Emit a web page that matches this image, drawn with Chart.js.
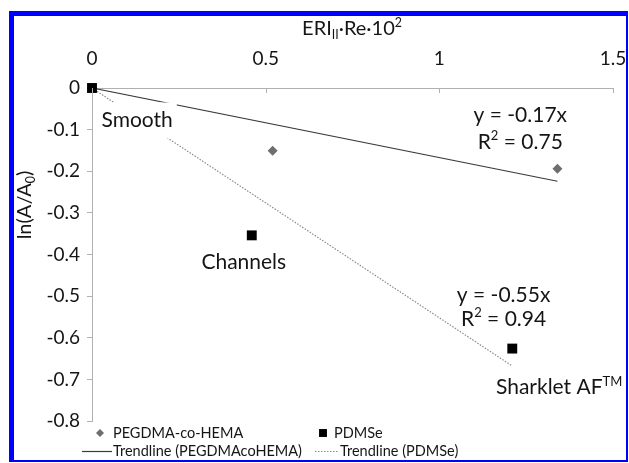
<!DOCTYPE html>
<html>
<head>
<meta charset="utf-8">
<script src="https://cdn.jsdelivr.net/npm/chart.js@4.4.0/dist/chart.umd.min.js"></script>
<style>
    body { margin: 0; background: #fff; }
    #wrap { position: relative; width: 629px; height: 463px; }
    #frame {
        position: absolute; left: 9px; top: 11px; width: 619px; height: 451px;
        box-sizing: border-box; pointer-events: none;
        border-style: solid; border-color: #0000ff;
        border-width: 5px 2px 2px 5px;
    }
</style>
</head>
<body>
<div id="wrap">
    <canvas id="chart" width="629" height="463"></canvas>
    <div id="frame"></div>
</div>
<script>
const FONT = 'Lato, "Open Sans", sans-serif';
const TEXT = '#151515';

// ERI·Re·10^2 values and ln(A/A0)
const pegX = [0, 0.52, 1.34];
const pegY = [0, -0.151, -0.194];
const pdmsX = [0, 0.46, 1.21];
const pdmsY = [0, -0.354, -0.626];
// trendline end points
const pegTrendX = [0, 1.34];
const pegTrendY = [0, -0.224];
const pdmsTrendX = [0, 1.21];
const pdmsTrendY = [0, -0.668];

const xTicks = [0, 0.5, 1, 1.5];
const yTicks = [0, -0.1, -0.2, -0.3, -0.4, -0.5, -0.6, -0.7, -0.8];

// text notes placed in data units
const notes = [
    {parts: [{t: 'Smooth'}], x: 0.13, y: -0.078, bg: true},
    {parts: [{t: 'Channels'}], x: 0.437, y: -0.418},
    {parts: [{t: 'y = -0.17x'}], x: 1.233, y: -0.066},
    {parts: [{t: 'R'}, {t: '2', sup: true}, {t: ' = 0.75'}], x: 1.233, y: -0.13},
    {parts: [{t: 'y = -0.55x'}], x: 1.185, y: -0.498},
    {parts: [{t: 'R'}, {t: '2', sup: true}, {t: ' = 0.94'}], x: 1.185, y: -0.556},
    {parts: [{t: 'Sharklet AF'}, {t: 'TM', sup: true}], x: 1.345, y: -0.72}
];

const toPts = (xs, ys) => xs.map((x, i) => ({x: x, y: ys[i]}));

function richWidth(ctx, parts, size) {
    let w = 0;
    parts.forEach(p => {
        ctx.font = ((p.sub || p.sup) ? size * 0.62 : size) + 'px ' + FONT;
        w += ctx.measureText(p.t).width;
    });
    return w;
}

function drawRich(ctx, parts, x, y, size) {
    // x is the centre, y the middle
    let w = richWidth(ctx, parts, size);
    let cx = x - w / 2;
    ctx.textBaseline = 'middle';
    ctx.textAlign = 'left';
    parts.forEach(p => {
        let s = (p.sub || p.sup) ? size * 0.62 : size;
        ctx.font = s + 'px ' + FONT;
        let dy = p.sub ? size * 0.3 : (p.sup ? -size * 0.3 : 0);
        ctx.fillText(p.t, cx, y + dy);
        cx += ctx.measureText(p.t).width;
    });
    return w;
}

const extras = {
    id: 'extras',
    afterDatasetsDraw(chart) {
        const ctx = chart.ctx;
        const xs = chart.scales.x, ys = chart.scales.y;
        const area = chart.chartArea;
        ctx.save();
        ctx.fillStyle = TEXT;
        notes.forEach(n => {
            const px = xs.getPixelForValue(n.x), py = ys.getPixelForValue(n.y);
            if (n.bg) {
                const w = richWidth(ctx, n.parts, 21);
                ctx.fillStyle = '#fff';
                ctx.fillRect(px - w / 2 - 4, py - 18, w + 8, 36);
                ctx.fillStyle = TEXT;
            }
            drawRich(ctx, n.parts, px, py, 21);
        });
        // inward ticks on the top axis
        ctx.strokeStyle = '#b0b0b0';
        ctx.lineWidth = 1;
        xTicks.forEach(v => {
            const px = Math.round(xs.getPixelForValue(v)) + 0.5;
            ctx.beginPath();
            ctx.moveTo(px, area.top);
            ctx.lineTo(px, area.top + 5);
            ctx.stroke();
        });
        // axis titles
        ctx.fillStyle = TEXT;
        drawRich(ctx, [{t: 'ERI'}, {t: 'II', sub: true}, {t: '·Re·10'}, {t: '2', sup: true}], 352, 29, 20);
        ctx.translate(25, 205);
        ctx.rotate(-Math.PI / 2);
        drawRich(ctx, [{t: 'ln(A/A'}, {t: '0', sub: true}, {t: ')'}], 0, 0, 20);
        ctx.restore();

        // legend
        ctx.save();
        const items = [
            {ds: 0, x: 100, y: 433, tx: 113},
            {ds: 1, x: 323, y: 433, tx: 334},
            {ds: 2, x: 82, y: 451, tx: 113},
            {ds: 3, x: 315, y: 451, tx: 340}
        ];
        items.forEach(it => {
            const d = chart.data.datasets[it.ds];
            if (d.showLine) {
                ctx.strokeStyle = d.borderColor;
                ctx.lineWidth = d.borderWidth;
                ctx.setLineDash(d.borderDash || []);
                ctx.beginPath();
                ctx.moveTo(it.x, it.y + 0.5);
                ctx.lineTo(it.tx - 1, it.y + 0.5);
                ctx.stroke();
                ctx.setLineDash([]);
            } else {
                ctx.fillStyle = d.backgroundColor;
                ctx.strokeStyle = d.borderColor;
                Chart.helpers.drawPoint(ctx, {pointStyle: d.pointStyle, radius: d.pointRadius * 0.8, borderWidth: 0}, it.x, it.y);
            }
            ctx.fillStyle = TEXT;
            ctx.font = '14.5px ' + FONT;
            ctx.textAlign = 'left';
            ctx.textBaseline = 'middle';
            ctx.fillText(d.label, it.tx, it.y);
        });
        ctx.restore();
    }
};

new Chart(document.getElementById('chart'), {
    type: 'scatter',
    data: {
        datasets: [
            {
                label: 'PEGDMA-co-HEMA',
                data: toPts(pegX, pegY),
                pointStyle: 'rectRot',
                pointRadius: 5,
                backgroundColor: '#6e6e6e',
                borderColor: '#6e6e6e',
                borderWidth: 0,
                clip: false,
                order: 2
            },
            {
                label: 'PDMSe',
                data: toPts(pdmsX, pdmsY),
                pointStyle: 'rect',
                pointRadius: 7,
                backgroundColor: '#000',
                borderColor: '#000',
                borderWidth: 0,
                clip: false,
                order: 1
            },
            {
                label: 'Trendline (PEGDMAcoHEMA)',
                data: toPts(pegTrendX, pegTrendY),
                showLine: true,
                pointRadius: 0,
                borderColor: '#3a3a3a',
                borderWidth: 1.2,
                order: 4
            },
            {
                label: 'Trendline (PDMSe)',
                data: toPts(pdmsTrendX, pdmsTrendY),
                showLine: true,
                pointRadius: 0,
                borderColor: '#8a8a8a',
                borderWidth: 1.2,
                borderDash: [1.5, 1.5],
                order: 3
            }
        ]
    },
    plugins: [extras],
    options: {
        responsive: false,
        animation: false,
        events: [],
        layout: {padding: {left: 14, right: 16, top: 16, bottom: 42}},
        plugins: {legend: {display: false}, tooltip: {enabled: false}},
        scales: {
            x: {
                type: 'linear',
                position: 'top',
                min: 0, max: 1.5,
                afterBuildTicks: s => { s.ticks = xTicks.map(v => ({value: v})); },
                afterFit: s => { s.height = 72; s.paddingLeft = 0; s.paddingRight = 0; },
                ticks: {color: TEXT, font: {family: FONT, size: 19}, padding: 18,
                    callback: v => String(v)},
                grid: {display: true, drawOnChartArea: false, tickLength: 0, color: '#b0b0b0'},
                border: {color: '#b0b0b0'}
            },
            y: {
                type: 'linear',
                min: -0.8, max: 0,
                afterBuildTicks: s => { s.ticks = yTicks.map(v => ({value: v})); },
                afterFit: s => { s.width = 78; s.paddingTop = 0; s.paddingBottom = 0; },
                ticks: {color: TEXT, font: {family: FONT, size: 19}, padding: 7,
                    callback: v => String(v)},
                grid: {display: true, drawOnChartArea: false, tickLength: 5, color: '#b0b0b0'},
                border: {color: '#b0b0b0'}
            }
        }
    }
});
</script>
</body>
</html>
